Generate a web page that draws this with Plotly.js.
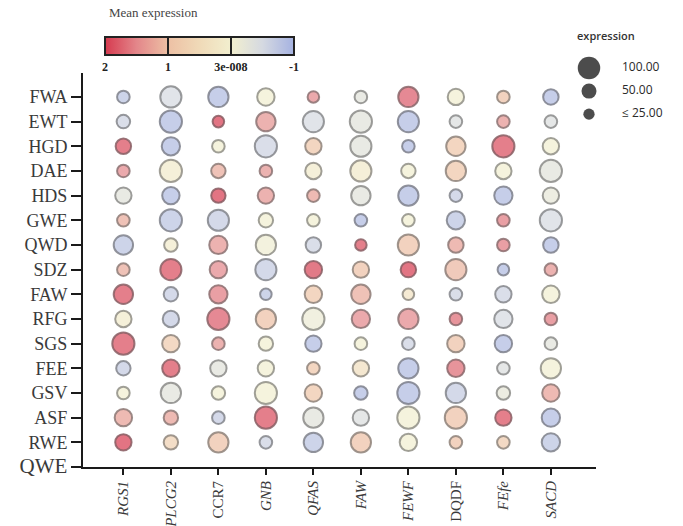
<!DOCTYPE html>
<html>
<head>
<meta charset="utf-8">
<script src="https://cdn.plot.ly/plotly-3.0.1.min.js"></script>
<style>html,body{margin:0;padding:0;background:#fff;}#chart{width:683px;height:526px;}</style>
</head>
<body>
<div id="chart"></div>
<script>
// ---- data ----
const genes = ['RGS1','PLCG2','CCR7','GNB','QFAS','FAW','FEWF','DQDF','FEfe','SACD'];
const geneLabels = ['<i>RGS1</i>','<i>PLCG2</i>','CCR7','<i>GNB</i>','<i>QFAS</i>','<i>FAW</i>','<i>FEWF</i>','DQDF','<i>FEfe</i>','<i>SACD</i>'];
const groups = ['FWA','EWT','HGD','DAE','HDS','GWE','QWD','SDZ','FAW','RFG','SGS','FEE','GSV','ASF','RWE'];
const baseGroup = 'QWE';

// mean expression, one row per group (columns follow genes)
const meanExpression = [
  [-0.8,-0.5,-0.9, 0.0, 1.5,-0.3, 1.8, 0.0, 1.0,-0.9],
  [-0.6,-0.9, 2.0, 1.4,-0.5,-0.3,-0.9,-0.4, 1.4,-0.4],
  [ 1.9,-0.9, 0.0,-0.6, 0.9,-0.3,-0.9, 0.9, 1.9, 0.0],
  [ 1.5, 0.1, 1.2, 1.4, 0.1, 0.15,0.0, 0.9, 0.0,-0.3],
  [-0.3,-0.9, 2.0, 1.4, 1.3,-0.3,-0.9,-0.7,-0.9,-0.2],
  [ 1.2,-0.8,-0.7, 0.0, 0.0,-0.9, 0.0,-0.8, 1.6,-0.5],
  [-0.8, 0.1, 1.4,-0.05,-0.6,1.9, 1.0, 1.3, 1.6,-0.9],
  [ 1.2, 1.9, 1.5,-0.7, 1.95,1.0, 2.0, 1.1,-0.9, 1.4],
  [ 1.9,-0.7, 1.6,-0.8, 0.9, 1.2, 0.3,-0.6,-0.6, 0.0],
  [ 0.1,-0.7, 1.8, 1.0,-0.1, 1.5, 1.5, 1.7,-0.5, 1.6],
  [ 1.9, 0.8, 1.4, 0.0,-0.9, 0.0,-0.6, 1.0,-0.9,-0.3],
  [-0.7, 1.9,-0.3, 0.0, 0.9, 0.4,-0.9, 1.7,-0.4, 0.0],
  [ 0.0,-0.3, 0.0, 0.0, 0.9,-0.9,-0.9,-0.7,-0.2, 1.3],
  [ 1.3, 1.3,-0.7, 1.9,-0.3,-0.4, 0.0, 1.0, 1.9,-0.9],
  [ 2.0, 0.7, 1.0,-0.6,-0.8, 1.0, 0.0, 1.0, 0.8,-0.8]
];
// expression (percent), same layout
const expressionPct = [
  [34,91,85,66,27,34,85,59,34,53],
  [40,98,27,79,91,98,91,34,34,34],
  [53,72,34,98,59,91,34,79,98,59],
  [34,98,46,34,59,91,46,85,59,98],
  [59,66,46,59,34,79,85,34,72,59],
  [34,98,91,46,34,34,34,72,34,98],
  [79,40,72,85,53,27,91,53,34,53],
  [34,91,66,91,66,59,53,91,27,34],
  [79,46,72,27,66,79,27,34,59,66],
  [59,59,98,85,98,72,85,34,72,34],
  [98,66,34,46,59,34,34,66,66,34],
  [46,66,59,59,34,59,85,66,34,85],
  [34,85,40,98,66,40,98,85,40,66],
  [66,46,34,98,85,59,98,98,59,72],
  [59,46,85,34,79,85,66,34,34,72]
];
const legendValues = [100, 50, 25];
const legendLabels = ['100.00', '50.00', '\u2264 25.00'];
const colorTickValues = [2, 1, 0, -1];
const colorTickLabels = ['2', '1', '3e-008', '-1'];

// ---- styling helpers ----
const stops = [
  [0, '#d63a4f'], [1/6, '#e3868a'], [1/3, '#edc0a4'], [0.5, '#f0dab8'],
  [2/3, '#f2efcf'], [5/6, '#d5d9e1'], [1, '#a5b2e1']
];
function hex2rgb(h){return [parseInt(h.substr(1,2),16),parseInt(h.substr(3,2),16),parseInt(h.substr(5,2),16)];}
function colorAt(v){ // v = negated mean in [-2,1]
  let t = (v + 2) / 3; t = Math.max(0, Math.min(1, t));
  for (let k = 0; k < stops.length - 1; k++) {
    const a = stops[k], b = stops[k+1];
    if (t <= b[0]) {
      const f = (t - a[0]) / (b[0] - a[0]);
      const ca = hex2rgb(a[1]), cb = hex2rgb(b[1]);
      return ca.map((c, i) => c + (cb[i] - c) * f);
    }
  }
  return hex2rgb(stops[stops.length-1][1]);
}
function sizeOf(p){ return 7.5 + 0.15 * p; }

const xs = [], ys = [], cs = [], ss = [], lc = [];
groups.forEach((g, i) => {
  genes.forEach((gn, j) => {
    xs.push(gn); ys.push(g);
    const v = -meanExpression[i][j];
    cs.push(v);
    ss.push(sizeOf(expressionPct[i][j]));
    const rgb = colorAt(v).map(c => Math.round(c * 0.4));
    lc.push('rgba(' + rgb.join(',') + ',0.85)');
  });
});

const serif = '"Liberation Serif", "Times New Roman", serif';
const sans = '"Open Sans", "Liberation Sans", Arial, sans-serif';

const bubbles = {
  type: 'scatter', mode: 'markers', x: xs, y: ys, xaxis: 'x', yaxis: 'y',
  hoverinfo: 'skip',
  marker: {
    color: cs, size: ss, sizemode: 'diameter',
    colorscale: stops, cmin: -2, cmax: 1,
    line: {color: lc, width: 2},
    showscale: true,
    colorbar: {
      orientation: 'h', x: 0.194, xanchor: 'center', y: 0.962, yanchor: 'top',
      lenmode: 'pixels', len: 189, thickness: 18, xpad: 0, ypad: 0,
      outlinewidth: 2, outlinecolor: '#222',
      tickmode: 'array', tickvals: colorTickValues.map(v => -v), ticktext: colorTickLabels,
      ticks: 'inside', ticklen: 18, tickwidth: 2, tickcolor: '#222',
      tickfont: {family: serif, size: 12, color: '#222', weight: 'bold'},
      title: {text: ''}
    }
  }
};

const legendDots = {
  type: 'scatter', mode: 'markers', xaxis: 'x2', yaxis: 'y2', hoverinfo: 'skip',
  x: legendValues.map(() => 0), y: legendValues.map((v, i) => i),
  marker: {color: '#000', size: legendValues.map(sizeOf), line: {width: 0}}
};
const legendText = {
  type: 'scatter', mode: 'text', xaxis: 'x2', yaxis: 'y2', hoverinfo: 'skip',
  x: legendValues.map(() => 1), y: legendValues.map((v, i) => i),
  text: legendLabels, textposition: 'middle right',
  textfont: {family: sans, size: 12, color: '#2a2a2a'}
};

const yCats = [baseGroup].concat(groups.slice().reverse());
const yText = yCats.map(c => c === baseGroup ? '<span style="font-size:21px">' + c + '</span>' : c);

const layout = {
  width: 683, height: 526,
  margin: {l: 83, r: 0, t: 20, b: 59},
  paper_bgcolor: '#fff', plot_bgcolor: 'rgba(0,0,0,0)',
  showlegend: false,
  xaxis: {
    domain: [0, 0.855], type: 'category', categoryorder: 'array', categoryarray: genes,
    range: [-0.85, 9.95], showgrid: false, zeroline: false,
    showline: true, linewidth: 2, linecolor: '#1a1a1a',
    ticks: 'outside', ticklen: 6, tickwidth: 2, tickcolor: '#1a1a1a',
    tickmode: 'array', tickvals: genes, ticktext: geneLabels, tickangle: -90,
    tickfont: {family: serif, size: 15, color: '#3a3a3a'}, fixedrange: true
  },
  yaxis: {
    domain: [0, 0.8814], type: 'category', categoryorder: 'array', categoryarray: yCats,
    range: [0, 15.97], showgrid: false, zeroline: false,
    showline: true, linewidth: 2, linecolor: '#1a1a1a',
    ticks: 'outside', ticklen: 10, tickwidth: 2, tickcolor: '#1a1a1a',
    tickmode: 'array', tickvals: yCats, ticktext: yText,
    tickfont: {family: serif, size: 18, color: '#3a3a3a'}, fixedrange: true
  },
  xaxis2: {domain: [0.82, 1], anchor: 'y2', range: [-0.424, 2.849], visible: false, fixedrange: true},
  yaxis2: {domain: [0.776, 0.989], anchor: 'x2', range: [2.26, -1.87], visible: false, fixedrange: true},
  annotations: [
    {text: 'Mean expression', xref: 'paper', yref: 'paper', x: 0.04, y: 1.0157,
     xanchor: 'left', yanchor: 'middle', showarrow: false,
     font: {family: serif, size: 13, color: '#444'}},
    {text: 'expression', xref: 'paper', yref: 'paper', x: 0.82, y: 0.9664,
     xanchor: 'left', yanchor: 'middle', showarrow: false,
     font: {family: sans, size: 11, color: '#333', weight: 600}}
  ]
};

Plotly.newPlot('chart', [bubbles, legendDots, legendText], layout, {displayModeBar: false, staticPlot: true});
</script>
</body>
</html>
